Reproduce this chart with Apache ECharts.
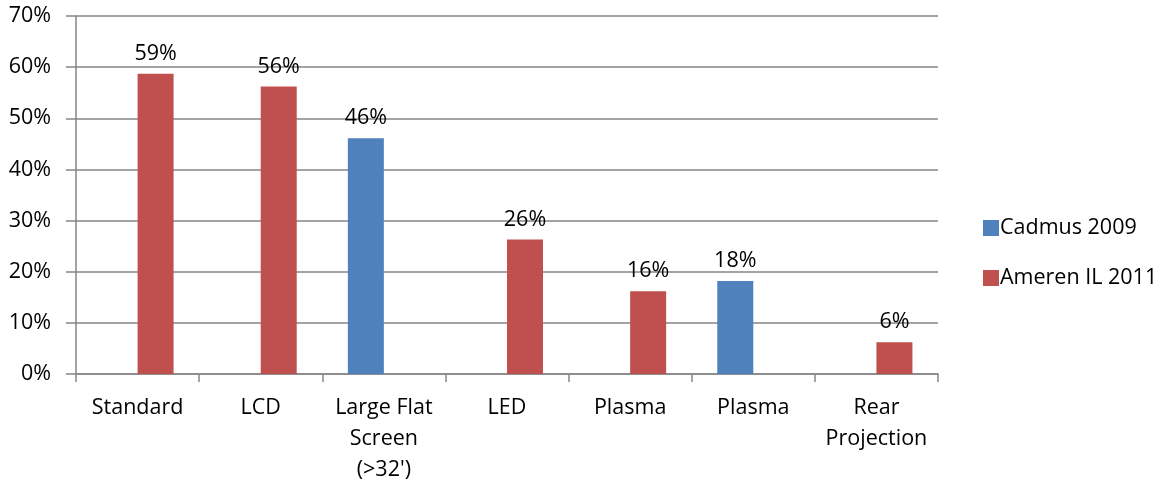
<!DOCTYPE html>
<html><head><meta charset="utf-8">
<script src="https://cdn.jsdelivr.net/npm/echarts@6/dist/echarts.min.js"></script>
<style>html,body{margin:0;padding:0;background:#fff;overflow:hidden}#c{width:100vw;height:100vh}</style>
</head><body><div id="c"></div>
<script>
const categories = ["Standard", "LCD", "Large Flat\nScreen\n(>32')", "LED", "Plasma", "Plasma", "Rear\nProjection"];
const cadmus2009 = [null, null, 46.1, null, null, 18.2, null];
const ameren2011 = [58.7, 56.2, null, 26.3, 16.2, null, 6.2];
const yTicks = [0, 10, 20, 30, 40, 50, 60, 70];

const font = "'Open Sans', sans-serif";
const fs = 21.5;
const chart = echarts.init(document.getElementById('c'));
const lbl = {show: true, position: 'top', distance: 9, fontFamily: font, fontSize: fs, color: '#000',
  formatter: p => p.value == null ? '' : Math.round(p.value) + '%'};
chart.setOption({
  animation: false,
  textStyle: {fontFamily: font},
  grid: {left: 76, width: 862, top: 16, height: 360, containLabel: false},
  legend: {orient: 'vertical', left: 978, top: 212, itemWidth: 16, itemHeight: 16, itemGap: 28,
    icon: 'rect', textStyle: {fontFamily: font, fontSize: fs, lineHeight: 20, color: '#000', padding: [0, 0, 0, -4]},
    data: ['Cadmus 2009', 'Ameren IL 2011']},
  xAxis: {type: 'category', data: categories,
    axisLine: {lineStyle: {color: '#868686', width: 1.5}},
    axisTick: {show: true, length: 8, alignWithLabel: false, lineStyle: {color: '#868686', width: 1.5}},
    axisLabel: {fontFamily: font, fontSize: fs, color: '#000', margin: 18, lineHeight: 31, interval: 0}},
  yAxis: {type: 'value', min: yTicks[0], max: yTicks[yTicks.length - 1], interval: 10,
    axisLine: {show: true, lineStyle: {color: '#868686', width: 1.5}},
    axisTick: {show: true, length: 10, lineStyle: {color: '#868686', width: 1.5}},
    splitLine: {lineStyle: {color: '#868686', width: 1.5}},
    axisLabel: {fontFamily: font, fontSize: fs, color: '#000', margin: 25, formatter: v => v + '%'}},
  series: [
    {name: 'Cadmus 2009', type: 'bar', data: cadmus2009, barWidth: 36, barGap: '0%',
      itemStyle: {color: '#4F81BD'}, label: lbl},
    {name: 'Ameren IL 2011', type: 'bar', data: ameren2011, barWidth: 36, barGap: '0%',
      itemStyle: {color: '#C0504D'}, label: lbl}
  ]
});
</script></body></html>
